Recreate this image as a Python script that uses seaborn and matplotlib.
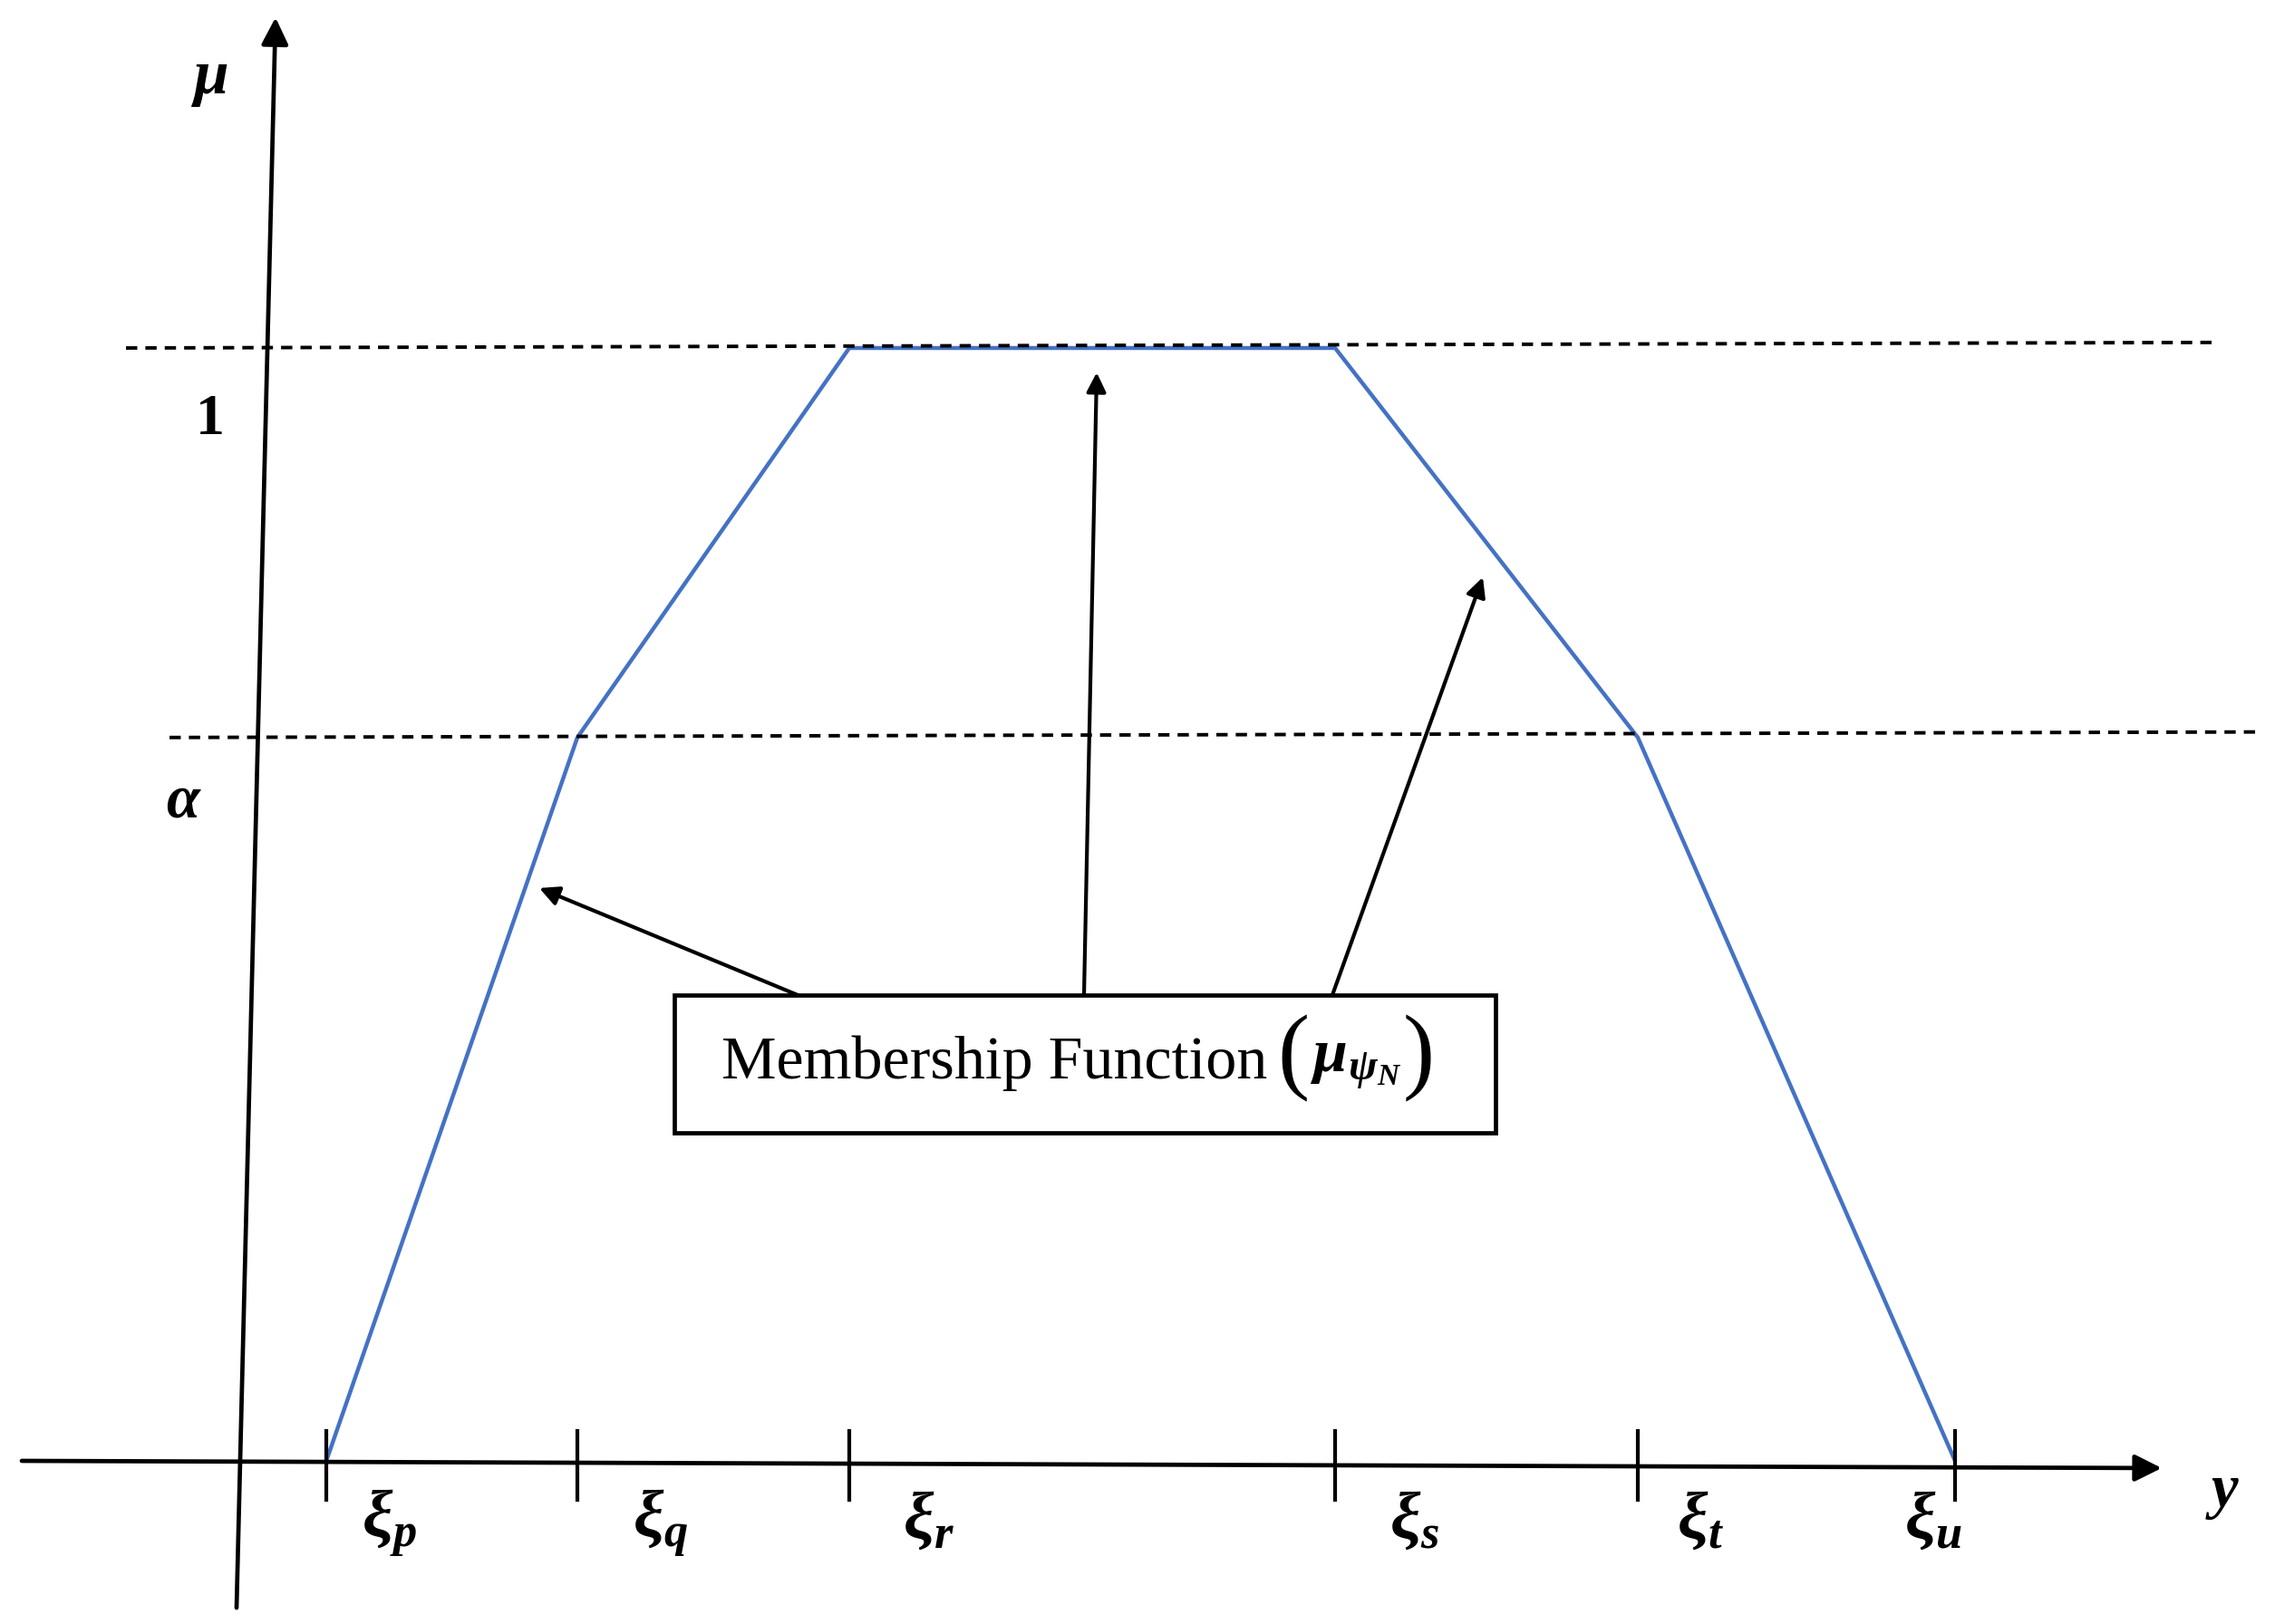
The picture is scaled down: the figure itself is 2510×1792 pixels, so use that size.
import matplotlib
matplotlib.use('Agg')
import matplotlib.pyplot as plt
from matplotlib.patches import Rectangle
import pandas as pd
import seaborn as sns

# trapezoidal membership function: breakpoints xi_p .. xi_u and their membership
xi_names = ['p', 'q', 'r', 's', 't', 'u']
xi_pos = [0.97, 3.74, 6.74, 12.10, 15.44, 18.94]
alpha_level = 0.65
mu_vals = [0.0, alpha_level, 1.0, 1.0, alpha_level, 0.0]
# where each xi label sits, relative to its tick
label_dx = [0.69, 0.92, 0.88, 0.88, 0.69, -0.24]
box_words = 'Membership Function'
box_symbol = r'$\mathbf{\mu_{\psi_N}}$'

sns.set_theme(style='white')
plt.rcParams['font.family'] = ['Liberation Serif', 'DejaVu Serif']
plt.rcParams['text.color'] = 'black'
plt.rcParams['mathtext.fontset'] = 'custom'
plt.rcParams['mathtext.rm'] = 'Liberation Serif'
plt.rcParams['mathtext.it'] = 'Liberation Serif:italic'
plt.rcParams['mathtext.bf'] = 'Liberation Serif:bold:italic'

fig = plt.figure(figsize=(25.1, 17.92), dpi=100)
ax = fig.add_axes([0, 0, 1, 1])
ax.set_xlim(-2.63, 22.47)
ax.set_ylim(-0.1466, 1.3127)
ax.axis('off')

df = pd.DataFrame({'y': xi_pos, 'mu': mu_vals})
sns.lineplot(data=df, x='y', y='mu', sort=False, color='#4472C4', lw=3.2, ax=ax)

# dashed reference levels at 1 and alpha
dash = (0, (3.2, 2.3))
ax.plot([-1.24, 21.83], [1.0, 1.005], color='black', lw=2.8, ls=dash)
ax.plot([-0.76, 22.34], [alpha_level, alpha_level + 0.005], color='black', lw=2.8, ls=dash)

# axes drawn as arrows
axis_arrow = dict(arrowstyle='-|>', lw=3.4, color='black', mutation_scale=45, shrinkA=0, shrinkB=0)
ax.annotate('', xy=(21.22, -0.0065), xytext=(-2.39, 0.0), arrowprops=axis_arrow)
ax.annotate('', xy=(0.41, 1.297), xytext=(-0.02, -0.132), arrowprops=axis_arrow)

# ticks and labels on the y axis (horizontal)
ax.vlines(xi_pos, -0.0366, 0.0285, color='black', lw=3)
for name, x, dx in zip(xi_names, xi_pos, label_dx):
    ax.text(x + dx, -0.055, r'$\mathbf{\xi_%s}$' % name, fontsize=54,
            ha='center', va='center')

ax.text(-0.31, 1.241, r'$\mathbf{\mu}$', fontsize=50, ha='center', va='center')
ax.text(-0.31, 0.935, '1', fontsize=46, fontweight='bold', ha='center', va='center')
ax.text(-0.60, 0.592, r'$\mathbf{\alpha}$', fontsize=48, ha='center', va='center')
ax.text(21.89, -0.030, r'$\mathbf{y}$', fontsize=48, ha='center', va='center')

# label box with its pointers
ax.add_patch(Rectangle((4.81, 0.295), 9.06, 0.1236, fill=False, ec='black', lw=3.4, zorder=3))
words = ax.text(5.33, 0.357, box_words, fontsize=49, ha='left', va='center')
lpar = ax.annotate('(', xy=(1, 0.5), xycoords=words, xytext=(8, 4), textcoords='offset points',
                   fontsize=76, ha='left', va='center')
sym = ax.annotate(box_symbol, xy=(1, 0.5), xycoords=lpar, xytext=(1, -4), textcoords='offset points',
                  fontsize=49, ha='left', va='center')
ax.annotate(')', xy=(1, 0.5), xycoords=sym, xytext=(1, 4), textcoords='offset points',
            fontsize=76, ha='left', va='center')

ptr = dict(arrowstyle='-|>', lw=3, color='black', mutation_scale=32, shrinkA=0, shrinkB=0)
ax.annotate('', xy=(3.32, 0.5147), xytext=(6.17, 0.4186), arrowprops=ptr)
ax.annotate('', xy=(9.47, 0.978), xytext=(9.33, 0.4186), arrowprops=ptr)
ax.annotate('', xy=(13.73, 0.794), xytext=(12.07, 0.4186), arrowprops=ptr)

fig.savefig('out.png', dpi=100, facecolor='white')
